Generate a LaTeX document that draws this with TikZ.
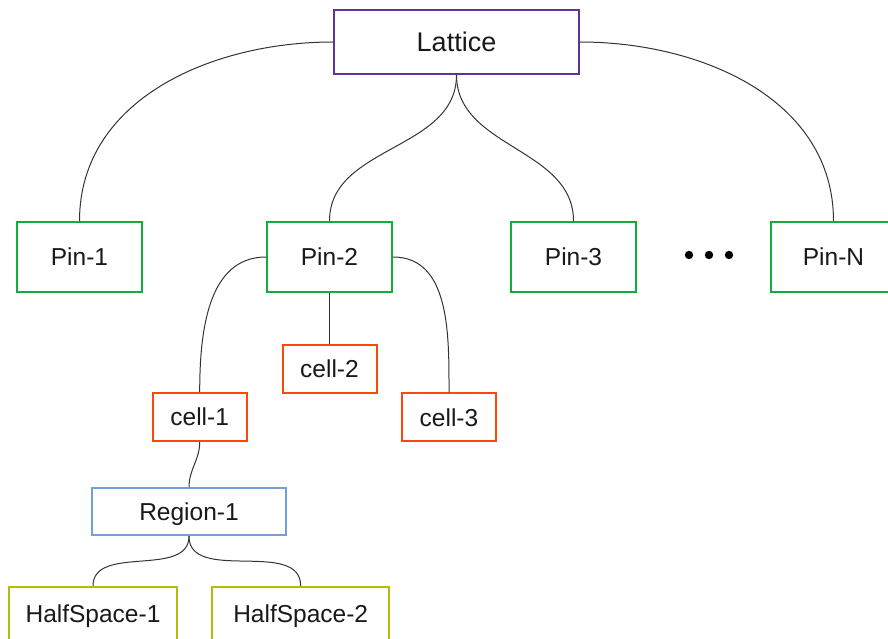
\documentclass[tikz,border=0pt]{standalone}
\usepackage{fontspec}
\setmainfont{Liberation Sans}
\usepackage{xcolor}
\definecolor{latpurple}{RGB}{95,52,150}
\definecolor{pingreen}{RGB}{16,172,60}
\definecolor{cellred}{RGB}{252,72,12}
\definecolor{regblue}{RGB}{112,160,212}
\definecolor{halfolive}{RGB}{182,188,10}
\definecolor{linkgray}{RGB}{51,51,51}
\usetikzlibrary{positioning}

\tikzset{
  box/.style={draw, line width=2pt, fill=white, inner sep=0pt,
    font=\fontsize{24.5}{29}\selectfont, text=black!90,
    text height=17.5pt, text depth=0pt},
  latbox/.style={box, draw=latpurple, minimum width=245pt, minimum height=64pt,
    font=\fontsize{27}{32}\selectfont, text height=19.3pt},
  pinbox/.style={box, draw=pingreen, minimum width=125pt, minimum height=70pt},
  cellbox/.style={box, draw=cellred, minimum width=94pt, minimum height=48pt},
  regbox/.style={box, draw=regblue, minimum width=194pt, minimum height=47pt},
  halfbox/.style={box, draw=halfolive, minimum height=54pt},
  link/.style={draw=linkgray, line width=1pt}
}

\begin{document}
\begin{tikzpicture}[x=1pt, y=-1pt]
  \useasboundingbox (0,0) rectangle (888,639);

  % Lattice and pins
  \node[latbox] (lattice) at (456.5,42) {Lattice};
  \node[pinbox] (pin1) at (79.5,257) {Pin-1};
  \node[pinbox] (pin2) at (329.5,257) {Pin-2};
  \node[pinbox] (pin3) at (573.5,257) {Pin-3};
  \node[pinbox] (pinN) at (833.5,257) {Pin-N};

  % dots between Pin-3 and Pin-N
  \fill[black] (689,255) circle (4.2);
  \fill[black] (709,255) circle (4.2);
  \fill[black] (729,255) circle (4.2);

  % Cells of Pin-2
  \node[cellbox] (cell1) at (199.7,417) {cell-1};
  \node[cellbox] (cell2) at (329.5,369) {cell-2};
  \node[cellbox] (cell3) at (449,417.3) {cell-3};

  % Region and half spaces
  \node[regbox] (region1) at (189,511.7) {Region-1};
  \node[halfbox, minimum width=168pt] (half1) at (93,614) {HalfSpace-1};
  \node[halfbox, minimum width=177pt] (half2) at (300.7,614) {HalfSpace-2};

  % Connectors
  \draw[link] (lattice.west) to[out=180, in=90] (pin1.north);
  \draw[link] (lattice.south) to[out=-90, in=90] (pin2.north);
  \draw[link] (lattice.south) to[out=-90, in=90] (pin3.north);
  \draw[link] (lattice.east) to[out=0, in=90] (pinN.north);

  \draw[link] (pin2.west) to[out=180, in=90] (cell1.north);
  \draw[link] (pin2.south) -- (cell2.north);
  \draw[link] (pin2.east) to[out=0, in=90] (cell3.north);

  \draw[link] (cell1.south) to[out=-90, in=90] (region1.north);
  \draw[link] (region1.south) to[out=-90, in=90] (half1.north);
  \draw[link] (region1.south) to[out=-90, in=90] (half2.north);
\end{tikzpicture}
\end{document}
